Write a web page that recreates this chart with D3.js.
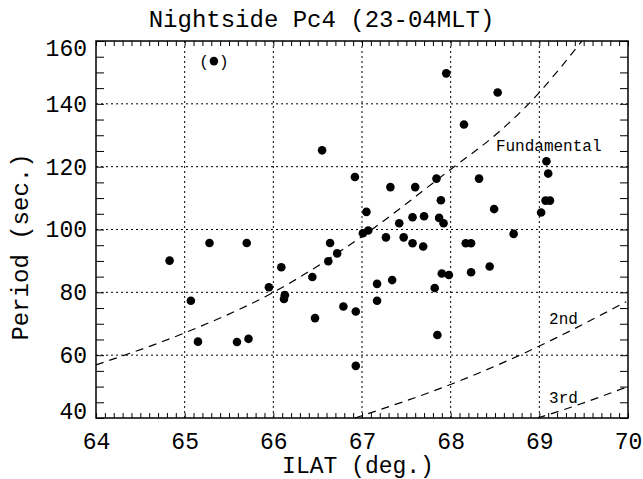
<!DOCTYPE html>
<html>
<head>
<meta charset="utf-8">
<script src="https://cdn.jsdelivr.net/npm/d3@7"></script>
<style>
    body { margin: 0; background: #fff; }
    text { font-family: "Liberation Mono", "DejaVu Sans Mono", monospace; fill: #000; }
</style>
</head>
<body>
<div id="chart"></div>
<script>
// event positions (invariant latitude, deg.) and periods (sec.)
var ilat = [66.55, 67.95, 68.53, 68.15, 66.92, 67.32, 67.60, 67.84, 68.32, 67.89,
    67.05, 68.49, 69.08, 69.10, 69.07, 69.12, 69.02, 65.28, 65.70, 64.83,
    66.64, 66.72, 66.62, 66.09, 66.44, 65.95, 66.13, 66.12, 65.07, 66.79,
    66.93, 66.47, 65.15, 65.59, 65.72, 66.93, 67.01, 67.07, 67.42, 67.57,
    67.70, 67.87, 67.92, 67.27, 67.47, 67.57, 67.69, 68.17, 68.23, 68.71,
    67.17, 67.34, 67.90, 67.98, 68.23, 68.44, 67.82, 67.17, 67.85];
var period = [125.2, 149.7, 143.6, 133.4, 116.7, 113.5, 113.5, 116.2, 116.2, 109.3,
    105.6, 106.5, 121.7, 117.8, 109.2, 109.2, 105.4, 95.7, 95.7, 90.1,
    95.7, 92.4, 89.9, 88.0, 84.9, 81.6, 79.1, 77.9, 77.3, 75.5,
    73.9, 71.8, 64.3, 64.2, 65.2, 56.6, 98.8, 99.7, 102.0, 103.9,
    104.2, 103.7, 102.0, 97.5, 97.5, 95.6, 94.6, 95.6, 95.6, 98.6,
    82.7, 83.9, 86.0, 85.5, 86.4, 88.2, 81.4, 77.3, 66.4];

// questionable event, drawn in brackets
var flaggedIlat = [65.33];
var flaggedPeriod = [153.6];

// model eigenperiod curves
var fundamental = [[64, 56.9], [65, 67.1], [66, 80], [67, 97.8], [68.04, 120], [68.48, 129.5], [68.88, 140], [69.48, 160]];
var second = [[66.92, 40], [68.1, 51.8], [68.78, 60], [69.98, 77.0]];
var third = [[68.98, 40], [69.27, 42.6], [69.98, 49.8]];

var xTicks = [64, 65, 66, 67, 68, 69, 70];
var yTicks = [40, 60, 80, 100, 120, 140, 160];
var xGrid = [65, 66, 67, 68, 69];
var yGrid = [60, 80, 100, 120, 140];

function drawChart() {
    var width = 643;
    var height = 479;
    var left = 96, right = 628, top = 41, bottom = 418;

    var svg = d3.select("#chart").append("svg")
        .attr("width", width)
        .attr("height", height);

    var x = d3.scaleLinear().domain([64, 70]).range([left, right]);
    var y = d3.scaleLinear().domain([40, 160]).range([bottom, top]);

    var minorX = d3.range(0, 61).map(function (i) { return 64 + i / 10; });
    var minorY = d3.range(0, 25).map(function (i) { return 40 + i * 5; });

    //Dotted grid
    svg.append("g").selectAll("line")
        .data(xGrid)
        .enter().append("line")
        .attr("x1", function (d) { return x(d); })
        .attr("x2", function (d) { return x(d); })
        .attr("y1", top)
        .attr("y2", bottom)
        .style("stroke", "#000")
        .style("stroke-width", 1)
        .style("stroke-dasharray", "2,3");

    svg.append("g").selectAll("line")
        .data(yGrid)
        .enter().append("line")
        .attr("x1", left)
        .attr("x2", right)
        .attr("y1", function (d) { return y(d); })
        .attr("y2", function (d) { return y(d); })
        .style("stroke", "#000")
        .style("stroke-width", 1)
        .style("stroke-dasharray", "2,3");

    //Minor ticks on all four sides, pointing in
    function minorAxis(axis, tx, ty) {
        var g = svg.append("g")
            .attr("transform", "translate(" + tx + "," + ty + ")")
            .call(axis.tickFormat(""));
        g.select(".domain").remove();
        g.selectAll("line").style("stroke", "#000").style("stroke-width", 1);
    }
    minorAxis(d3.axisBottom(x).tickValues(minorX).tickSize(-5), 0, bottom);
    minorAxis(d3.axisTop(x).tickValues(minorX).tickSize(-5), 0, top);
    minorAxis(d3.axisLeft(y).tickValues(minorY).tickSize(-8), left, 0);
    minorAxis(d3.axisRight(y).tickValues(minorY).tickSize(-8), right, 0);

    //Tick labels
    var xAxis = svg.append("g")
        .attr("transform", "translate(0," + bottom + ")")
        .call(d3.axisBottom(x).tickValues(xTicks).tickSize(0).tickPadding(15).tickFormat(d3.format("d")));
    xAxis.select(".domain").remove();
    xAxis.selectAll("text").style("font-size", "23px").style("font-family", "Liberation Mono");

    var yAxis = svg.append("g")
        .attr("transform", "translate(" + left + ",0)")
        .call(d3.axisLeft(y).tickValues(yTicks).tickSize(0).tickPadding(9).tickFormat(d3.format("d")));
    yAxis.select(".domain").remove();
    yAxis.selectAll("text")
        .style("font-size", "23px")
        .style("font-family", "Liberation Mono")
        .attr("y", function (d) {
            //keep end labels inside the frame height
            return d == 160 ? 7 : (d == 40 ? -7 : 0);
        });

    //Model curves
    var line = d3.line()
        .x(function (d) { return x(d[0]); })
        .y(function (d) { return y(d[1]); })
        .curve(d3.curveMonotoneX);

    [fundamental, second, third].forEach(function (c) {
        svg.append("path")
            .attr("d", line(c))
            .style("fill", "none")
            .style("stroke", "#000")
            .style("stroke-width", 1.2)
            .style("stroke-dasharray", "8,6");
    });

    var curveLabels = [["Fundamental", 68.51, 125], ["2nd", 69.11, 69.9], ["3rd", 69.11, 44.8]];
    svg.selectAll(".clabel")
        .data(curveLabels)
        .enter().append("text")
        .attr("class", "clabel")
        .attr("x", function (d) { return x(d[1]); })
        .attr("y", function (d) { return y(d[2]); })
        .style("font-size", "16px")
        .text(function (d) { return d[0]; });

    //Events
    svg.append("g").selectAll("circle")
        .data(ilat)
        .enter().append("circle")
        .attr("cx", function (d) { return x(d); })
        .attr("cy", function (d, i) { return y(period[i]); })
        .attr("r", 4.3)
        .style("fill", "#000");

    var flagged = svg.append("g").selectAll("g")
        .data(flaggedIlat)
        .enter().append("g")
        .attr("transform", function (d, i) {
            return "translate(" + x(d) + "," + y(flaggedPeriod[i]) + ")";
        });
    flagged.append("circle").attr("r", 4.3).style("fill", "#000");
    flagged.append("text")
        .attr("x", -10).attr("dy", "0.35em")
        .attr("text-anchor", "middle")
        .style("font-size", "16px")
        .text("(");
    flagged.append("text")
        .attr("x", 10).attr("dy", "0.35em")
        .attr("text-anchor", "middle")
        .style("font-size", "16px")
        .text(")");

    //Frame
    svg.append("rect")
        .attr("x", left)
        .attr("y", top)
        .attr("width", right - left)
        .attr("height", bottom - top)
        .style("fill", "none")
        .style("stroke", "#000")
        .style("stroke-width", 1.5);

    //Titles
    svg.append("text")
        .attr("x", width / 2)
        .attr("y", 27)
        .attr("text-anchor", "middle")
        .style("font-size", "24px")
        .text("Nightside Pc4 (23-04MLT)");

    svg.append("text")
        .attr("x", 358)
        .attr("y", 473)
        .attr("text-anchor", "middle")
        .style("font-size", "23px")
        .text("ILAT (deg.)");

    svg.append("text")
        .attr("transform", "translate(28,247) rotate(-90)")
        .attr("text-anchor", "middle")
        .style("font-size", "24px")
        .text("Period (sec.)");
}

drawChart();
</script>
</body>
</html>
